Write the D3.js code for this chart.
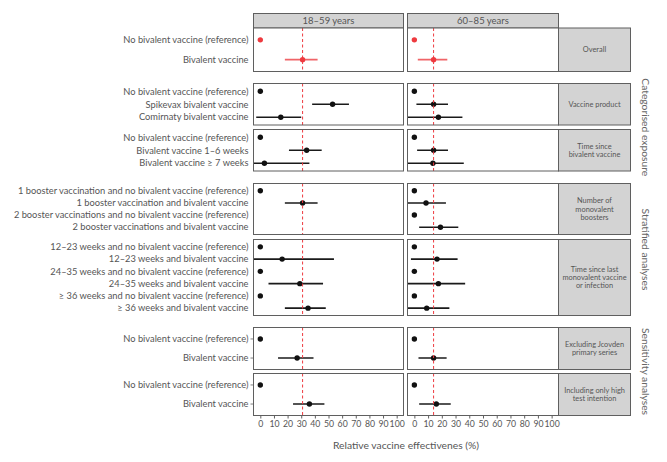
<!DOCTYPE html>
<html><head><meta charset="utf-8">
<script src="https://cdn.jsdelivr.net/npm/d3@7"></script>
<style>
html,body{margin:0;padding:0;background:#fff;}
svg{display:block;font-family:Lato,"Open Sans",sans-serif;}
</style></head>
<body><svg id="c" width="667" height="462"></svg>
<script>
// ---------- data ----------
const ageGroups = ["18\u201359 years", "60\u201385 years"];
const xTicks = [0,10,20,30,40,50,60,70,80,90,100];
const refLines = [31, 14];
const xTitle = "Relative vaccine effectivenes (%)";

const stripLabels = [
  ["Overall"],
  ["Vaccine product"],
  ["Time since", "bivalent vaccine"],
  ["Number of", "monovalent", "boosters"],
  ["Time since last", "monovalent vaccine", "or infection"],
  ["Excluding Jcovden", "primary series"],
  ["Including only high", "test intention"]
];
const groupLabels = ["Categorised exposure", "Stratified analyses", "Sensitivity analyses"];
const groupPanels = [[1,2],[3,4],[5,6]];

const categories = [
  ["No bivalent vaccine (reference)", "Bivalent vaccine"],
  ["No bivalent vaccine (reference)", "Spikevax bivalent vaccine", "Comirnaty bivalent vaccine"],
  ["No bivalent vaccine (reference)", "Bivalent vaccine 1\u20136 weeks", "Bivalent vaccine \u2265 7 weeks"],
  ["1 booster vaccination and no bivalent vaccine (reference)", "1 booster vaccination and bivalent vaccine",
   "2 booster vaccinations and no bivalent vaccine (reference)", "2 booster vaccinations and bivalent vaccine"],
  ["12\u201323 weeks and no bivalent vaccine (reference)", "12\u201323 weeks and bivalent vaccine",
   "24\u201335 weeks and no bivalent vaccine (reference)", "24\u201335 weeks and bivalent vaccine",
   "\u2265 36 weeks and no bivalent vaccine (reference)", "\u2265 36 weeks and bivalent vaccine"],
  ["No bivalent vaccine (reference)", "Bivalent vaccine"],
  ["No bivalent vaccine (reference)", "Bivalent vaccine"]
];

// 18-59 years
const est18 = [[0,31],[0,53,15],[0,34,3],[0,31,null,null],[0,16,0,29,0,35],[0,27],[0,36]];
const lo18  = [[null,18],[null,38,-3],[null,21,-12],[null,18,null,null],[null,-12,null,6,null,18],[null,13],[null,24]];
const hi18  = [[null,42],[null,65,30],[null,45,36],[null,42,null,null],[null,54,null,46,null,48],[null,39],[null,47]];
// 60-85 years
const est60 = [[0,14],[0,14,17.5],[0,14,13.5],[0,8.5,0,19],[0,16.5,0,17.5,0,9],[0,14],[0,16]];
const lo60  = [[null,2.5],[null,1.5,-12],[null,2,-12],[null,-12,null,3.5],[null,-2.5,null,-12,null,-12],[null,3],[null,3.5]];
const hi60  = [[null,24],[null,24.5,35],[null,24.5,36],[null,23,null,32],[null,31.5,null,37,null,25.5],[null,23.5],[null,26.5]];

// ---------- layout ----------
const svg = d3.select("#c");
const colX = [[253.5,403.5],[407.5,558.5]];
const stripX = [558.5, 630.5];
const panelY = [[28,71.5],[83.5,125],[129.5,171],[183.5,234.5],[239.5,315.5],[327.5,369.5],[373.5,415.5]];
const headerY = [13.5, 28];
const border = "#5f5f5f";
const stripFill = "#d3d3d3";
const textCol = "#555";
const red = "#ee3a3f";

const xScales = colX.map(r => d3.scaleLinear().domain([-5,105]).range(r));
const ests = [est18, est60], los = [lo18, lo60], his = [hi18, hi60];

const defs = svg.append("defs");
colX.forEach((cx, ci) => panelY.forEach((py, pi) => {
  defs.append("clipPath").attr("id", `clip-${ci}-${pi}`)
    .append("rect").attr("x", cx[0]).attr("y", py[0]).attr("width", cx[1]-cx[0]).attr("height", py[1]-py[0]);
}));

// headers
colX.forEach((cx, ci) => {
  svg.append("rect").attr("x", cx[0]).attr("y", headerY[0]).attr("width", cx[1]-cx[0]).attr("height", headerY[1]-headerY[0])
    .attr("fill", stripFill).attr("stroke", border).attr("stroke-width", 1);
  svg.append("text").attr("x", (cx[0]+cx[1])/2).attr("y", (headerY[0]+headerY[1])/2).attr("dy","0.35em")
    .attr("text-anchor","middle").attr("font-size", 9.5).attr("fill", textCol).text(ageGroups[ci]);
});

panelY.forEach((py, pi) => {
  const y = d3.scalePoint().domain(categories[pi]).range(py).padding(0.6);
  categories[pi].forEach(c => {
    svg.append("text").attr("x", 248.5).attr("y", y(c)).attr("dy","0.35em").attr("text-anchor","end")
      .attr("font-size", 9.3).attr("fill", textCol).text(c);
  });
  if (pi >= 5) {
    categories[pi].forEach(c => {
      svg.append("line").attr("x1", 250.5).attr("x2", 253.5).attr("y1", y(c)).attr("y2", y(c))
        .attr("stroke", border).attr("stroke-width", 0.8);
    });
  }
  colX.forEach((cx, ci) => {
    const x = xScales[ci];
    svg.append("rect").attr("x", cx[0]).attr("y", py[0]).attr("width", cx[1]-cx[0]).attr("height", py[1]-py[0])
      .attr("fill", "#fff");
    const g = svg.append("g").attr("clip-path", `url(#clip-${ci}-${pi})`);
    const col = pi === 0 ? red : "#111";
    categories[pi].forEach((c, i) => {
      const e = ests[ci][pi][i], lo = los[ci][pi][i], hi = his[ci][pi][i];
      if (lo != null && hi != null) {
        g.append("line").attr("x1", x(lo)).attr("x2", x(hi)).attr("y1", y(c)).attr("y2", y(c))
          .attr("stroke", pi === 0 ? "#f06468" : "#1a1a1a").attr("stroke-width", 1.6);
      }
      if (e != null) {
        g.append("circle").attr("cx", x(e)).attr("cy", y(c)).attr("r", 2.7).attr("fill", col);
      }
    });
    g.append("line").attr("x1", x(refLines[ci])).attr("x2", x(refLines[ci])).attr("y1", py[0]).attr("y2", py[1])
      .attr("stroke", red).attr("stroke-width", 1).attr("stroke-dasharray", "3,2.5");
    svg.append("rect").attr("x", cx[0]).attr("y", py[0]).attr("width", cx[1]-cx[0]).attr("height", py[1]-py[0])
      .attr("fill", "none").attr("stroke", border).attr("stroke-width", 1);
  });
  svg.append("rect").attr("x", stripX[0]).attr("y", py[0]).attr("width", stripX[1]-stripX[0]).attr("height", py[1]-py[0])
    .attr("fill", stripFill).attr("stroke", border).attr("stroke-width", 1);
  const lines = stripLabels[pi], lh = 8.2, cy = (py[0]+py[1])/2;
  lines.forEach((l, k) => {
    svg.append("text").attr("x", (stripX[0]+stripX[1])/2).attr("y", cy + (k - (lines.length-1)/2)*lh).attr("dy","0.35em")
      .attr("text-anchor","middle").attr("font-size", 7.4).attr("fill", textCol).text(l);
  });
});

// group labels
groupLabels.forEach((gl, gi) => {
  const [a, b] = groupPanels[gi];
  const cy = (panelY[a][0] + panelY[b][1]) / 2;
  svg.append("text").attr("transform", `translate(646,${cy}) rotate(90)`).attr("text-anchor","middle").attr("dy","0.35em")
    .attr("font-size", 10.3).attr("fill", "#666").text(gl);
});

// x axes
const bottom = panelY[panelY.length-1][1];
xScales.forEach(x => {
  const ax = svg.append("g").attr("transform", `translate(0,${bottom})`)
    .call(d3.axisBottom(x).tickValues(xTicks).tickSize(3).tickPadding(2));
  ax.select(".domain").remove();
  ax.selectAll(".tick line").attr("stroke", border);
  ax.selectAll(".tick text").attr("fill", textCol).attr("font-size", 8.7).attr("font-family", "Lato, sans-serif");
});
svg.append("text").attr("x", (colX[0][0]+colX[1][1])/2).attr("y", 445).attr("dy","0.35em").attr("text-anchor","middle")
  .attr("font-size", 10.3).attr("fill", textCol).text(xTitle);
</script></body></html>
